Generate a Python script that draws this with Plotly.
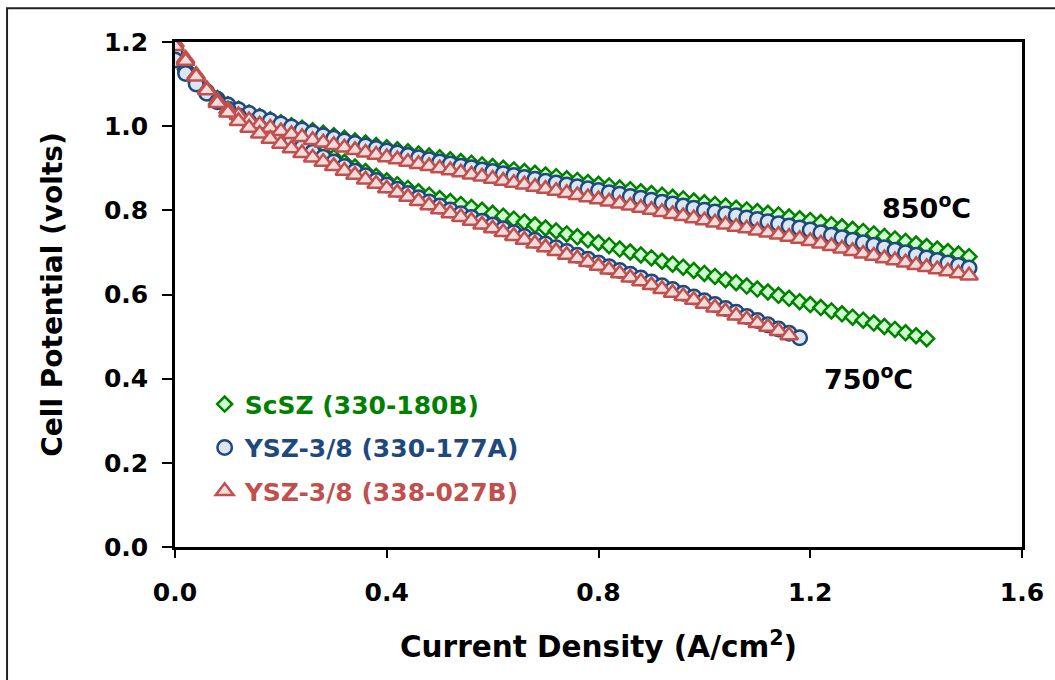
import plotly.graph_objects as go

# Current density grid (A/cm2)
current_density = [
    0.00, 0.02, 0.04, 0.06, 0.08, 0.10, 0.12, 0.14, 0.16, 0.18,
    0.20, 0.22, 0.24, 0.26, 0.28, 0.30, 0.32, 0.34, 0.36, 0.38,
    0.40, 0.42, 0.44, 0.46, 0.48, 0.50, 0.52, 0.54, 0.56, 0.58,
    0.60, 0.62, 0.64, 0.66, 0.68, 0.70, 0.72, 0.74, 0.76, 0.78,
    0.80, 0.82, 0.84, 0.86, 0.88, 0.90, 0.92, 0.94, 0.96, 0.98,
    1.00, 1.02, 1.04, 1.06, 1.08, 1.10, 1.12, 1.14, 1.16, 1.18,
    1.20, 1.22, 1.24, 1.26, 1.28, 1.30, 1.32, 1.34, 1.36, 1.38,
    1.40, 1.42, 1.44, 1.46, 1.48, 1.50,
]

# 850 C curves (cell potential, volts)
scsz_850 = [
    1.170, 1.137, 1.108, 1.085, 1.066, 1.051, 1.040, 1.031, 1.023, 1.015,
    1.008, 1.001, 0.995, 0.989, 0.983, 0.977, 0.971, 0.965, 0.960, 0.954,
    0.949, 0.944, 0.939, 0.934, 0.929, 0.925, 0.920, 0.916, 0.912, 0.908,
    0.904, 0.900, 0.896, 0.892, 0.888, 0.884, 0.880, 0.875, 0.871, 0.866,
    0.862, 0.858, 0.853, 0.849, 0.844, 0.840, 0.836, 0.831, 0.827, 0.822,
    0.818, 0.814, 0.810, 0.805, 0.801, 0.797, 0.793, 0.789, 0.784, 0.780,
    0.776, 0.771, 0.766, 0.761, 0.755, 0.750, 0.744, 0.738, 0.732, 0.726,
    0.720, 0.714, 0.708, 0.702, 0.696, 0.690,
]
ysz177a_850 = [
    1.176, 1.132, 1.104, 1.082, 1.064, 1.050, 1.039, 1.030, 1.021, 1.013,
    1.005, 0.998, 0.991, 0.984, 0.977, 0.971, 0.965, 0.959, 0.953, 0.947,
    0.941, 0.936, 0.930, 0.925, 0.920, 0.915, 0.910, 0.905, 0.901, 0.896,
    0.892, 0.887, 0.883, 0.878, 0.874, 0.869, 0.865, 0.860, 0.856, 0.851,
    0.847, 0.842, 0.838, 0.833, 0.829, 0.824, 0.819, 0.815, 0.810, 0.805,
    0.800, 0.796, 0.791, 0.787, 0.782, 0.778, 0.773, 0.768, 0.763, 0.758,
    0.753, 0.747, 0.741, 0.735, 0.729, 0.723, 0.717, 0.711, 0.705, 0.699,
    0.693, 0.687, 0.681, 0.675, 0.669, 0.663,
]
ysz027b_850 = [
    1.198, 1.160, 1.122, 1.088, 1.060, 1.040, 1.026, 1.014, 1.004, 0.996,
    0.988, 0.981, 0.974, 0.967, 0.961, 0.955, 0.949, 0.943, 0.937, 0.932,
    0.926, 0.921, 0.915, 0.910, 0.905, 0.900, 0.895, 0.890, 0.885, 0.880,
    0.875, 0.870, 0.865, 0.861, 0.856, 0.851, 0.846, 0.841, 0.836, 0.831,
    0.826, 0.821, 0.816, 0.811, 0.806, 0.801, 0.796, 0.791, 0.786, 0.781,
    0.776, 0.771, 0.766, 0.761, 0.757, 0.752, 0.747, 0.742, 0.737, 0.732,
    0.727, 0.721, 0.715, 0.709, 0.703, 0.697, 0.692, 0.686, 0.681, 0.676,
    0.670, 0.665, 0.660, 0.655, 0.650, 0.645,
]

# 750 C curves (cell potential, volts)
scsz_750 = [
    1.168, 1.135, 1.106, 1.083, 1.063, 1.046, 1.031, 1.018, 1.006, 0.995,
    0.984, 0.972, 0.960, 0.948, 0.937, 0.926, 0.914, 0.903, 0.892, 0.881,
    0.870, 0.861, 0.852, 0.844, 0.836, 0.828, 0.821, 0.814, 0.807, 0.800,
    0.793, 0.786, 0.779, 0.772, 0.765, 0.758, 0.751, 0.744, 0.737, 0.730,
    0.723, 0.716, 0.708, 0.701, 0.694, 0.687, 0.679, 0.672, 0.665, 0.657,
    0.650, 0.643, 0.635, 0.628, 0.620, 0.613, 0.606, 0.598, 0.591, 0.583,
    0.576, 0.569, 0.561, 0.554, 0.546, 0.539, 0.532, 0.524, 0.517, 0.509,
    0.502, 0.495,
]
ysz177a_750 = [
    1.157, 1.125, 1.100, 1.078, 1.058, 1.040, 1.024, 1.010, 0.997, 0.985,
    0.974, 0.962, 0.950, 0.938, 0.926, 0.915, 0.904, 0.893, 0.882, 0.871,
    0.860, 0.850, 0.840, 0.830, 0.820, 0.810, 0.801, 0.792, 0.783, 0.774,
    0.765, 0.756, 0.747, 0.738, 0.729, 0.720, 0.711, 0.702, 0.693, 0.684,
    0.675, 0.666, 0.657, 0.648, 0.639, 0.630, 0.621, 0.612, 0.603, 0.594,
    0.585, 0.576, 0.567, 0.558, 0.548, 0.538, 0.528, 0.518, 0.508, 0.497,
]
ysz027b_750 = [
    1.190, 1.155, 1.118, 1.085, 1.055, 1.032, 1.012, 0.996, 0.982, 0.970,
    0.958, 0.947, 0.936, 0.925, 0.915, 0.905, 0.894, 0.884, 0.873, 0.863,
    0.852, 0.842, 0.832, 0.822, 0.812, 0.802, 0.793, 0.784, 0.775, 0.766,
    0.757, 0.748, 0.739, 0.730, 0.721, 0.712, 0.703, 0.694, 0.686, 0.677,
    0.668, 0.659, 0.650, 0.640, 0.631, 0.622, 0.613, 0.604, 0.596, 0.587,
    0.578, 0.569, 0.560, 0.550, 0.541, 0.532, 0.523, 0.513, 0.503,
]

series_names = ["ScSZ (330-180B)", "YSZ-3/8 (330-177A)", "YSZ-3/8 (338-027B)"]
temp_labels = ["850<sup>o</sup>C", "750<sup>o</sup>C"]

FONT = "Verdana, DejaVu Sans, sans-serif"
GREEN, GREEN_FILL = "#008000", "#CCFFCC"
BLUE, BLUE_FILL = "#1F497D", "#DCE6F2"
RED, RED_FILL = "#C0504D", "#F2DCDB"

styles = [
    dict(symbol="diamond", size=11.5, color=GREEN_FILL, line=dict(color=GREEN, width=2.5)),
    dict(symbol="circle", size=14.5, color=BLUE_FILL, line=dict(color=BLUE, width=2.5)),
    dict(symbol="triangle-up", size=15.5, color=RED_FILL, line=dict(color=RED, width=2.5)),
]
text_colors = [GREEN, BLUE, RED]
data_850 = [scsz_850, ysz177a_850, ysz027b_850]
data_750 = [scsz_750, ysz177a_750, ysz027b_750]

fig = go.Figure()
for i in range(3):
    name = f"<span style='color:{text_colors[i]}'>{series_names[i]}</span>"
    for j, ys in enumerate([data_850[i], data_750[i]]):
        fig.add_trace(go.Scatter(
            x=current_density[:len(ys)], y=ys, mode="markers",
            marker=styles[i], name=name, legendgroup=f"g{i}",
            showlegend=(j == 0), cliponaxis=True,
        ))

axis_common = dict(
    showgrid=False, zeroline=False, showline=True, linecolor="black",
    linewidth=2.5, mirror=True, ticks="outside", tickcolor="black",
    tickwidth=2, tickformat=".1f",
    tickfont=dict(family=FONT, size=25, color="black", weight="bold"),
)
fig.update_xaxes(range=[0, 1.6], dtick=0.4, ticklen=8, ticklabelstandoff=13,
                 title=dict(text="Current Density (A/cm<sup>2</sup>)", standoff=31,
                            font=dict(family=FONT, size=29.5, color="black", weight="bold")),
                 **axis_common)
fig.update_yaxes(range=[0, 1.2], dtick=0.2, ticklen=10, ticklabelstandoff=9,
                 title=dict(text="Cell Potential (volts)", standoff=34,
                            font=dict(family=FONT, size=28, color="black", weight="bold")),
                 **axis_common)

fig.add_annotation(x=1.42, y=0.81, xref="x", yref="y", text=temp_labels[0], showarrow=False,
                   font=dict(family=FONT, size=27, color="black", weight="bold"))
fig.add_annotation(x=1.31, y=0.402, xref="x", yref="y", text=temp_labels[1], showarrow=False,
                   font=dict(family=FONT, size=27, color="black", weight="bold"))

fig.add_shape(type="rect", xref="paper", yref="paper", x0=-0.1983, y0=-0.30,
              x1=1.06, y1=1.067, line=dict(color="#222222", width=2), layer="below")

fig.update_layout(
    width=1055, height=680,
    margin=dict(l=175, r=33, t=42, b=133),
    paper_bgcolor="white", plot_bgcolor="white",
    showlegend=True,
    legend=dict(x=0.035, y=0.328, xanchor="left", yanchor="top",
                bgcolor="rgba(0,0,0,0)", tracegroupgap=8, traceorder="grouped",
                font=dict(family=FONT, size=25, weight="bold"),
                itemwidth=30),
)

fig.write_html("out.html")
